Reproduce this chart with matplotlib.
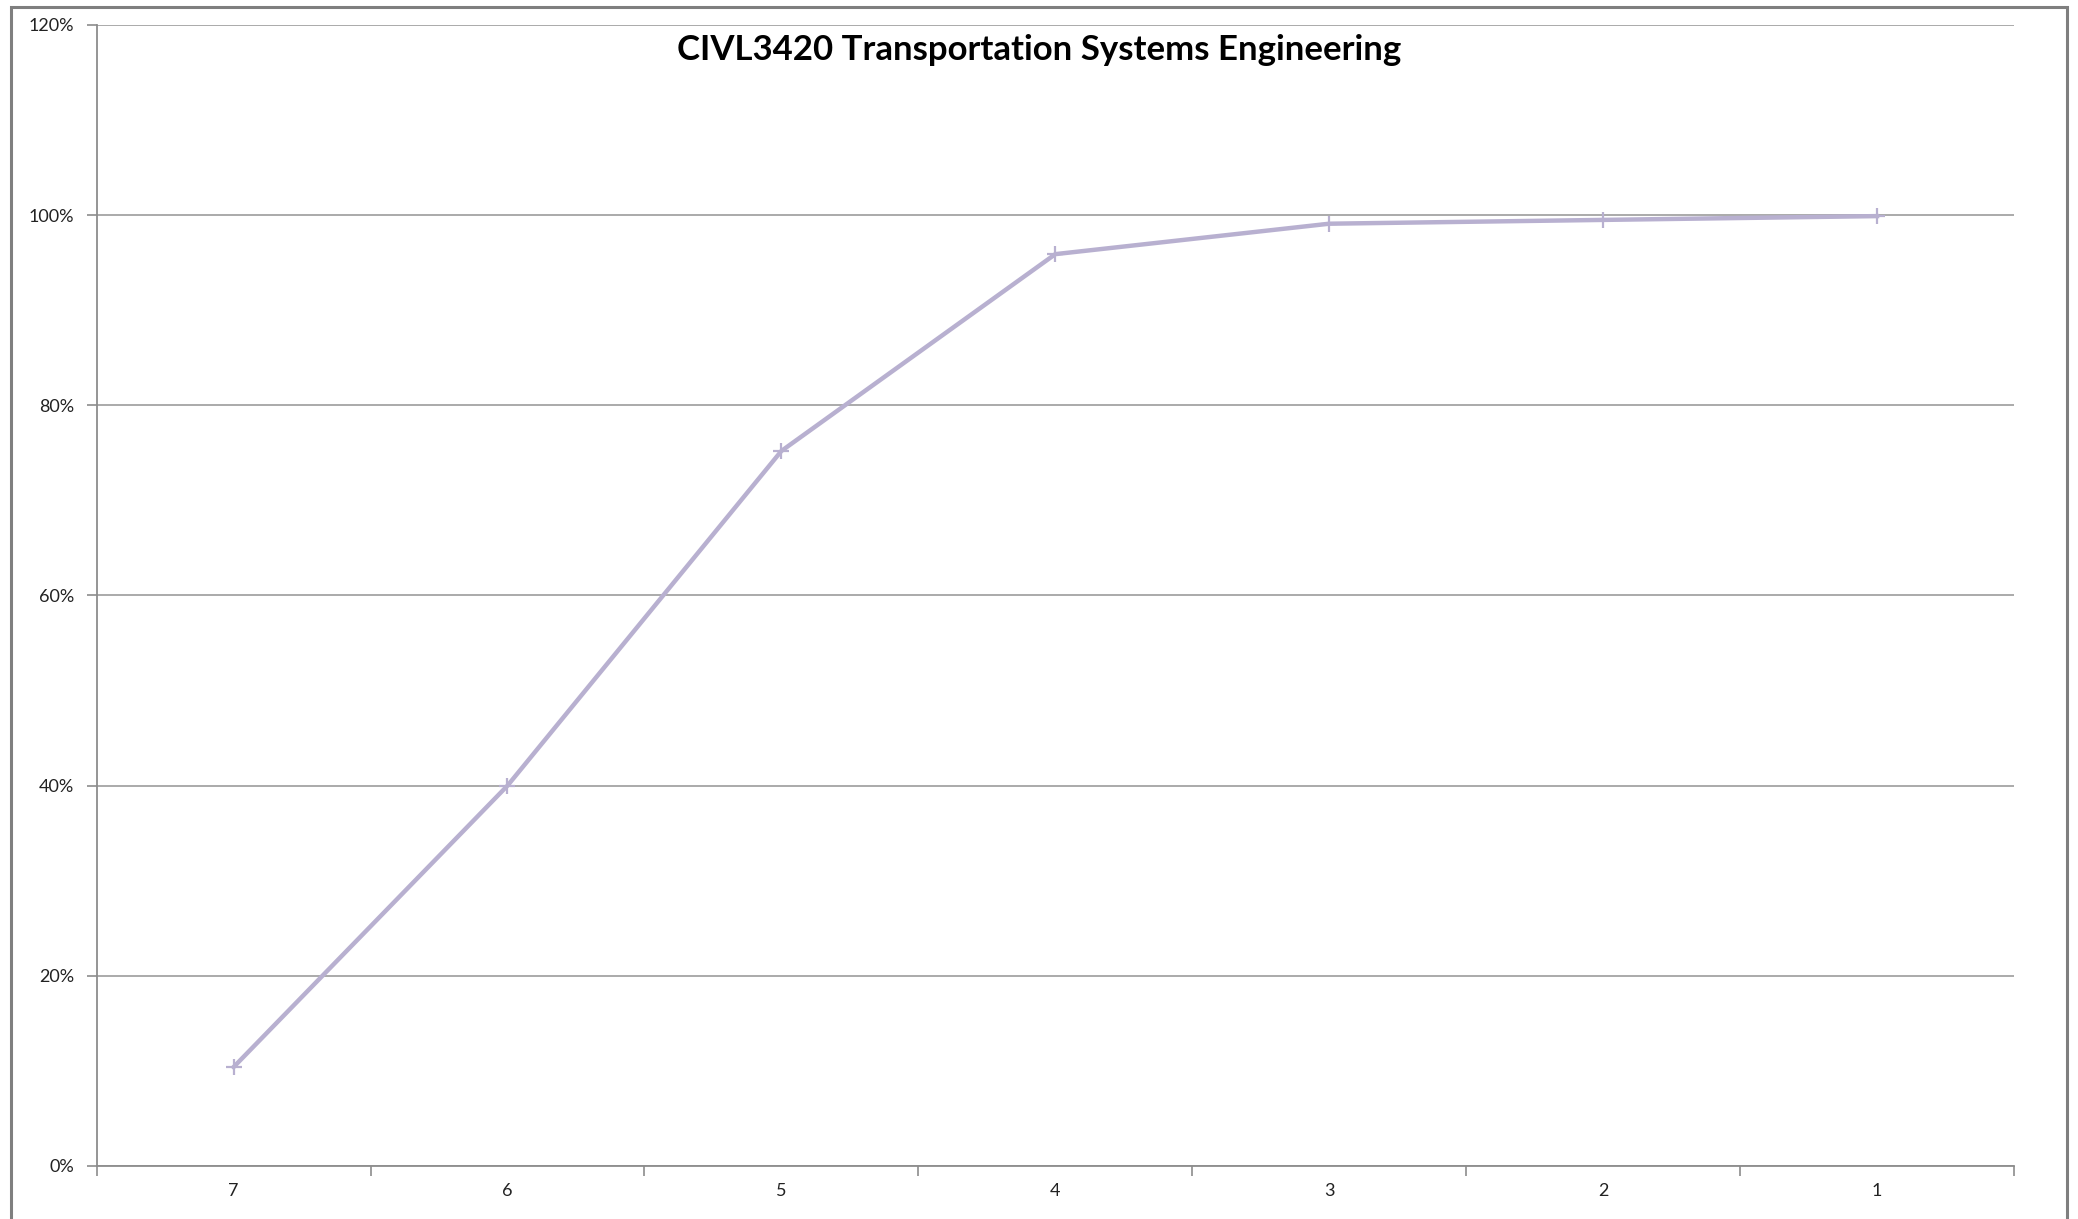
import numpy as np
import matplotlib.pyplot as plt
from matplotlib.patches import Rectangle
from matplotlib.ticker import FuncFormatter

# data
categories = ["7", "6", "5", "4", "3", "2", "1"]
cum_share = [10.4, 40.0, 75.2, 95.9, 99.1, 99.5, 99.9]   # percent
y_ticks = [0, 20, 40, 60, 80, 100, 120]

title = "CIVL3420 Transportation Systems Engineering"

plt.rcParams['font.family'] = ['Lato', 'DejaVu Sans']

fig = plt.figure(figsize=(20.78, 12.19), dpi=100)
ax = fig.add_axes([0.0465, 0.0435, 0.9227, 0.936])

x = np.arange(len(categories))
ax.plot(x, cum_share, color="#b8b0d0", lw=3.2, marker="+", ms=11, mew=1.6,
        solid_joinstyle="round", zorder=3)

ax.set_xlim(-0.5, len(categories) - 0.5)
ax.set_ylim(0, 120)

# y axis
ax.set_yticks(y_ticks)
ax.yaxis.set_major_formatter(FuncFormatter(lambda v, p: f"{v:.0f}%"))
ax.grid(axis="y", color="#9c9c9c", lw=1.2)
ax.set_axisbelow(True)
ax.tick_params(axis="y", length=7, width=1.2, color="#8c8c8c", pad=9,
               labelsize=13, labelcolor="#222222")

# x axis: labels in the middle, tick marks between categories
ax.set_xticks(x)
ax.set_xticklabels(categories)
ax.set_xticks(np.arange(len(categories) + 1) - 0.5, minor=True)
ax.tick_params(axis="x", which="major", length=0, pad=12,
               labelsize=13, labelcolor="#222222")
ax.tick_params(axis="x", which="minor", length=7, width=1.2, color="#8c8c8c")

for side in ["top", "right"]:
    ax.spines[side].set_visible(False)
for side in ["left", "bottom"]:
    ax.spines[side].set_color("#8c8c8c")
    ax.spines[side].set_linewidth(1.3)

fig.text(0.5, 0.959, title, ha="center", va="center",
         fontsize=25, fontweight="bold")

# chart border
fig.patches.append(Rectangle((0.0055, -0.05), 0.989, 1.044, transform=fig.transFigure,
                             fill=False, ec="#7f7f7f", lw=2.2))

fig.savefig("out.png", dpi=100)
